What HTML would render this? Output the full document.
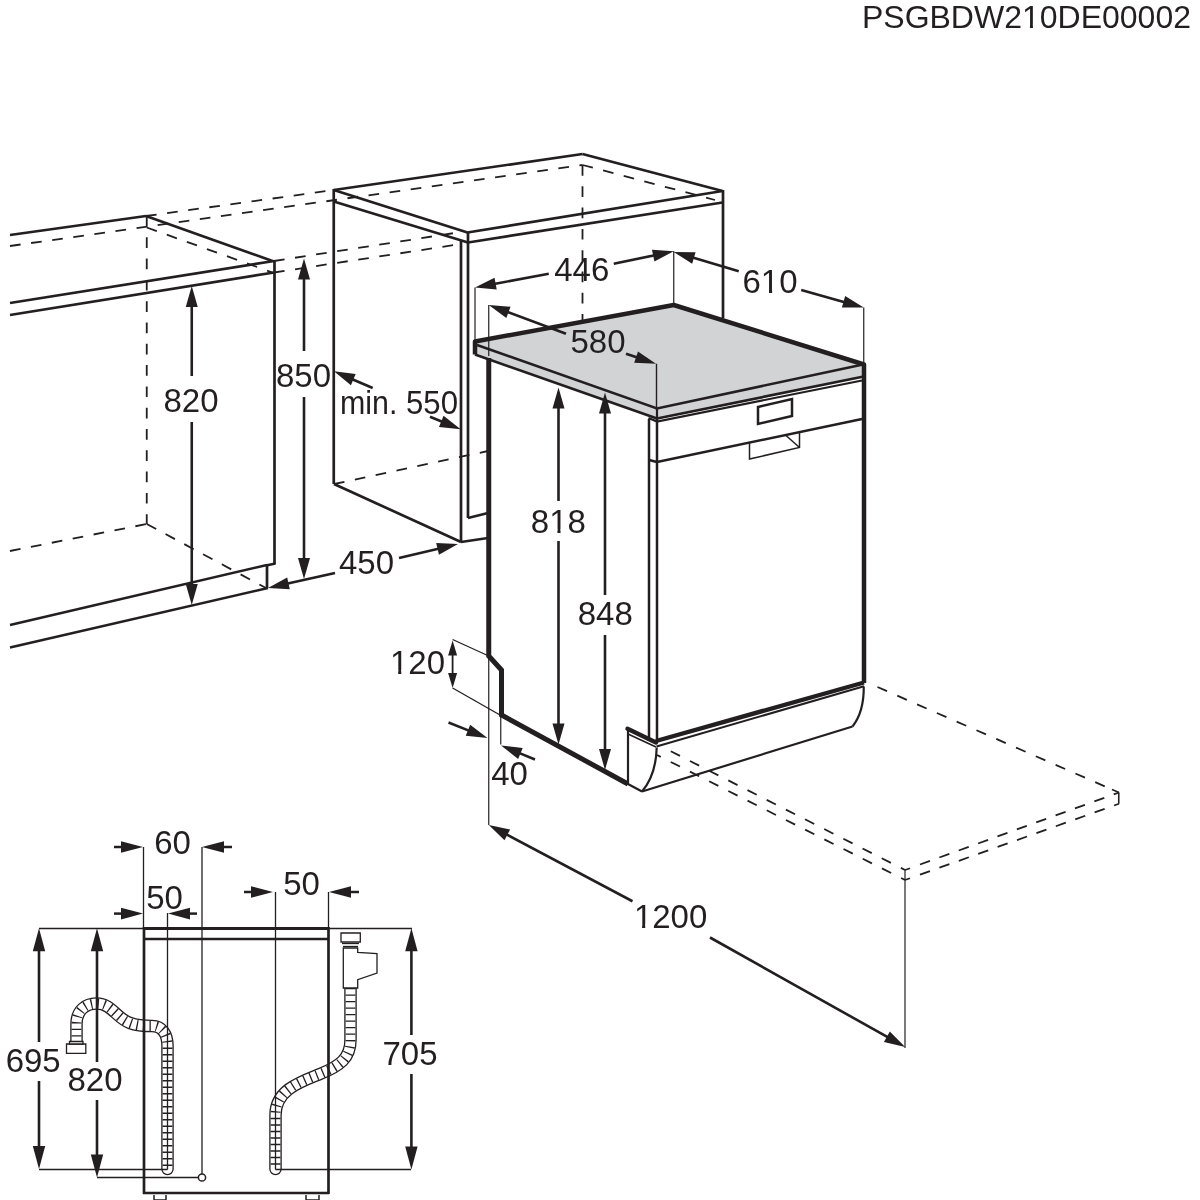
<!DOCTYPE html>
<html><head><meta charset="utf-8"><style>
html,body{margin:0;padding:0;background:#fff;}
svg{display:block;will-change:transform;}
text{font-family:"Liberation Sans",sans-serif;}
</style></head><body>
<svg width="1200" height="1200" viewBox="0 0 1200 1200" stroke="#231f20" fill="none">
<rect width="1200" height="1200" fill="#fff" stroke="none"/>
<defs><clipPath id="c0"><path d="M0,0H1200V1200H0ZM1022.91,24.01H1029.92V29.60H1022.91ZM1032.94,24.01H1039.70V29.60H1032.94Z" clip-rule="evenodd"/></clipPath><clipPath id="c1"><path d="M0,0H1200V1200H0ZM761.83,289.33H769.01V295.00H761.83ZM772.13,289.33H779.05V295.00H772.13Z" clip-rule="evenodd"/></clipPath><clipPath id="c2"><path d="M0,0H1200V1200H0ZM550.23,529.33H557.41V535.00H550.23ZM560.53,529.33H567.45V535.00H560.53Z" clip-rule="evenodd"/></clipPath><clipPath id="c3"><path d="M0,0H1200V1200H0ZM390.98,670.08H398.17V675.75H390.98ZM401.28,670.08H408.21V675.75H401.28Z" clip-rule="evenodd"/></clipPath><clipPath id="c4"><path d="M0,0H1200V1200H0ZM634.90,923.83H642.09V929.50H634.90ZM645.20,923.83H652.13V929.50H645.20Z" clip-rule="evenodd"/></clipPath></defs>
<text x="1191" y="27.6" text-anchor="end" font-size="32" fill="#231f20" stroke="none" clip-path="url(#c0)">PSGBDW210DE00002</text>
<line x1="10" y1="235" x2="146" y2="216" stroke-width="2.7" stroke-linecap="butt"/>
<line x1="146" y1="216" x2="272.5" y2="261" stroke-width="2.7" stroke-linecap="butt"/>
<line x1="10" y1="303" x2="274" y2="261" stroke-width="2.7" stroke-linecap="butt"/>
<line x1="10" y1="315" x2="274" y2="272.5" stroke-width="2.7" stroke-linecap="butt"/>
<line x1="274.5" y1="260" x2="274.5" y2="564" stroke-width="2.7" stroke-linecap="butt"/>
<line x1="275.5" y1="563.5" x2="266" y2="565.5" stroke-width="2.7" stroke-linecap="butt"/>
<line x1="267" y1="564" x2="267" y2="588" stroke-width="2.7" stroke-linecap="butt"/>
<line x1="10" y1="625" x2="267" y2="565" stroke-width="2.5" stroke-linecap="butt"/>
<line x1="10" y1="647.5" x2="268" y2="588" stroke-width="2.5" stroke-linecap="butt"/>
<line x1="146" y1="216" x2="334" y2="190" stroke-width="1.8" stroke-linecap="butt" stroke-dasharray="10.7 10.6" stroke-dashoffset="0"/>
<line x1="10" y1="246" x2="582.5" y2="165" stroke-width="1.8" stroke-linecap="butt" stroke-dasharray="10.7 10.6" stroke-dashoffset="0"/>
<line x1="146.75" y1="227.5" x2="272.5" y2="272.5" stroke-width="1.8" stroke-linecap="butt" stroke-dasharray="10.7 10.6" stroke-dashoffset="0"/>
<line x1="146.75" y1="216" x2="146.75" y2="524" stroke-width="1.8" stroke-linecap="butt" stroke-dasharray="10.7 10.6" stroke-dashoffset="0"/>
<line x1="10" y1="551" x2="146.75" y2="524" stroke-width="1.8" stroke-linecap="butt" stroke-dasharray="10.7 10.6" stroke-dashoffset="0"/>
<line x1="146.75" y1="524" x2="266" y2="588" stroke-width="1.8" stroke-linecap="butt" stroke-dasharray="10.7 10.6" stroke-dashoffset="0"/>
<line x1="274" y1="261" x2="461" y2="232" stroke-width="1.8" stroke-linecap="butt" stroke-dasharray="10.7 10.6" stroke-dashoffset="0"/>
<line x1="274" y1="272.5" x2="461" y2="244" stroke-width="1.8" stroke-linecap="butt" stroke-dasharray="10.7 10.6" stroke-dashoffset="0"/>
<line x1="191.75" y1="376" x2="191.75" y2="304.0" stroke-width="2.6" stroke-linecap="butt"/>
<polygon points="191.75,286.00 197.75,307.00 185.75,307.00" fill="#231f20" stroke="none"/>
<line x1="191.75" y1="422" x2="191.75" y2="587.0" stroke-width="2.6" stroke-linecap="butt"/>
<polygon points="191.75,605.00 185.75,584.00 197.75,584.00" fill="#231f20" stroke="none"/>
<text x="191" y="412" text-anchor="middle" font-size="33" fill="#231f20" stroke="none">820</text>
<line x1="304" y1="351" x2="304.0" y2="276.5" stroke-width="2.6" stroke-linecap="butt"/>
<polygon points="304.00,258.50 310.00,279.50 298.00,279.50" fill="#231f20" stroke="none"/>
<line x1="304" y1="397" x2="304.0" y2="561.0" stroke-width="2.6" stroke-linecap="butt"/>
<polygon points="304.00,579.00 298.00,558.00 310.00,558.00" fill="#231f20" stroke="none"/>
<text x="303.5" y="386.5" text-anchor="middle" font-size="33" fill="#231f20" stroke="none">850</text>
<line x1="333.75" y1="190" x2="582.5" y2="154" stroke-width="2.7" stroke-linecap="butt"/>
<line x1="582.5" y1="154" x2="722.5" y2="191" stroke-width="2.7" stroke-linecap="butt"/>
<line x1="333.75" y1="190" x2="467.5" y2="232.5" stroke-width="2.7" stroke-linecap="butt"/>
<line x1="333.75" y1="201.5" x2="468" y2="242.5" stroke-width="2.7" stroke-linecap="butt"/>
<line x1="467.5" y1="232.5" x2="722.5" y2="191" stroke-width="2.7" stroke-linecap="butt"/>
<line x1="468" y1="242.5" x2="722.5" y2="202.5" stroke-width="2.7" stroke-linecap="butt"/>
<line x1="333.75" y1="189" x2="333.75" y2="484" stroke-width="2.7" stroke-linecap="butt"/>
<line x1="461" y1="241" x2="461" y2="542" stroke-width="2.7" stroke-linecap="butt"/>
<line x1="468" y1="232" x2="468" y2="518" stroke-width="2.7" stroke-linecap="butt"/>
<line x1="723" y1="190" x2="723" y2="318" stroke-width="2.7" stroke-linecap="butt"/>
<line x1="334" y1="484" x2="461" y2="542" stroke-width="2.7" stroke-linecap="butt"/>
<line x1="461" y1="542" x2="488" y2="538" stroke-width="2.7" stroke-linecap="butt"/>
<line x1="468" y1="518" x2="488" y2="513" stroke-width="2.7" stroke-linecap="butt"/>
<line x1="582.5" y1="165" x2="582.5" y2="322" stroke-width="1.8" stroke-linecap="butt" stroke-dasharray="10.7 10.6" stroke-dashoffset="0"/>
<line x1="334" y1="484" x2="488" y2="451" stroke-width="1.8" stroke-linecap="butt" stroke-dasharray="10.7 10.6" stroke-dashoffset="0"/>
<line x1="582.5" y1="165" x2="715" y2="200" stroke-width="1.8" stroke-linecap="butt" stroke-dasharray="10.7 10.6" stroke-dashoffset="0"/>
<line x1="372.7" y1="388" x2="350.526888069059" y2="378.4317579006017" stroke-width="2.6" stroke-linecap="butt"/>
<polygon points="334.00,371.30 355.66,374.11 350.90,385.13" fill="#231f20" stroke="none"/>
<line x1="430" y1="416.7" x2="444.0479418089616" y2="422.4656047815282" stroke-width="2.6" stroke-linecap="butt"/>
<polygon points="460.70,429.30 438.99,426.88 443.55,415.78" fill="#231f20" stroke="none"/>
<text x="340" y="414" font-size="33" fill="#231f20" stroke="none" textLength="57.4" lengthAdjust="spacingAndGlyphs">min.</text>
<text x="406" y="414" font-size="33" fill="#231f20" stroke="none" textLength="52" lengthAdjust="spacingAndGlyphs">550</text>
<line x1="335" y1="573" x2="285.5651765259982" y2="584.0674977926869" stroke-width="2.6" stroke-linecap="butt"/>
<polygon points="268.00,588.00 287.18,577.56 289.80,589.27" fill="#231f20" stroke="none"/>
<line x1="399" y1="558" x2="440.48630824279047" y2="548.1557912644226" stroke-width="2.6" stroke-linecap="butt"/>
<polygon points="458.00,544.00 438.95,554.69 436.18,543.01" fill="#231f20" stroke="none"/>
<text x="366.5" y="574" text-anchor="middle" font-size="33" fill="#231f20" stroke="none">450</text>
<polygon points="475,342 673.75,305 863.75,364 863.75,376.5 657,418.5 475,354" stroke-width="0" fill="#d2d3d5" stroke-linejoin="miter"/>
<polyline points="475,354.5 475,341.5 673.75,305 864,364.5 864,683" stroke-width="4.5" fill="none" stroke-linejoin="round"/>
<polyline points="477,345 657,408.5 863,364.5" stroke-width="2.5" fill="none" stroke-linejoin="miter"/>
<polyline points="475,354.5 657,418.5 863.75,376.5" stroke-width="2.7" fill="none" stroke-linejoin="round"/>
<line x1="657" y1="408" x2="657" y2="419" stroke-width="2.2" stroke-linecap="butt"/>
<polyline points="488.75,358 488.75,656 501.5,670 501.5,715 628,784" stroke-width="5" fill="none" stroke-linejoin="miter"/>
<line x1="628" y1="784" x2="642" y2="791.5" stroke-width="2.2" stroke-linecap="butt"/>
<polyline points="648.5,418 657,421.5 862,380.5" stroke-width="2.2" fill="none" stroke-linejoin="miter"/>
<line x1="649" y1="419" x2="649" y2="741" stroke-width="2.5" stroke-linecap="butt"/>
<line x1="657" y1="419" x2="657" y2="741" stroke-width="2.5" stroke-linecap="butt"/>
<line x1="657" y1="462" x2="862" y2="419" stroke-width="2.5" stroke-linecap="butt"/>
<line x1="649" y1="460" x2="657" y2="462" stroke-width="2.5" stroke-linecap="butt"/>
<polygon points="758,407 792,399 792,416 758,424" stroke-width="2.5" fill="none" stroke-linejoin="miter"/>
<polyline points="749.5,443 749.5,459 799.5,447.5 799.5,432" stroke-width="1.5" fill="none" stroke-linejoin="miter"/>
<line x1="786" y1="435.5" x2="799.5" y2="447.5" stroke-width="1.5" stroke-linecap="butt"/>
<line x1="656" y1="741" x2="864" y2="682.5" stroke-width="4.4" stroke-linecap="butt"/>
<line x1="656.5" y1="746.5" x2="864" y2="686.2" stroke-width="2" stroke-linecap="butt"/>
<line x1="627.5" y1="728.75" x2="656" y2="742.5" stroke-width="4.4" stroke-linecap="round"/>
<line x1="628" y1="734" x2="656" y2="747" stroke-width="1.6" stroke-linecap="butt"/>
<line x1="628" y1="730" x2="628" y2="785" stroke-width="2.2" stroke-linecap="butt"/>
<path d="M656.7,747.5 Q656,775 642,791.5" fill="none" stroke-width="2.2"/>
<line x1="642" y1="791.5" x2="852.5" y2="726.5" stroke-width="2.2" stroke-linecap="butt"/>
<path d="M863.75,686.5 Q864,712 852.5,726.5" fill="none" stroke-width="2.2"/>
<line x1="670.8" y1="751.25" x2="905" y2="870" stroke-width="1.8" stroke-linecap="butt" stroke-dasharray="10.3 11.2" stroke-dashoffset="0"/>
<line x1="657" y1="755" x2="905" y2="880" stroke-width="1.8" stroke-linecap="butt" stroke-dasharray="10.3 11.2" stroke-dashoffset="6.1"/>
<line x1="877.5" y1="687" x2="1112" y2="789.5" stroke-width="1.8" stroke-linecap="butt" stroke-dasharray="10.4 11.2" stroke-dashoffset="0"/>
<line x1="1112" y1="789.5" x2="1119" y2="792.5" stroke-width="1.6" stroke-linecap="butt"/>
<line x1="920" y1="864.5" x2="1119" y2="792.5" stroke-width="1.8" stroke-linecap="butt" stroke-dasharray="10.6 10" stroke-dashoffset="0"/>
<line x1="905" y1="870" x2="910" y2="868.2" stroke-width="1.6" stroke-linecap="butt"/>
<line x1="920" y1="874.6" x2="1119" y2="803.75" stroke-width="1.8" stroke-linecap="butt" stroke-dasharray="10.6 10" stroke-dashoffset="0"/>
<line x1="905" y1="880" x2="910" y2="878.2" stroke-width="1.6" stroke-linecap="butt"/>
<line x1="1118.75" y1="792.5" x2="1118.75" y2="803.75" stroke-width="1.6" stroke-linecap="butt"/>
<line x1="905" y1="870" x2="905" y2="1048" stroke-width="1.2" stroke-linecap="butt"/>
<line x1="475" y1="287.5" x2="475" y2="341" stroke-width="1.2" stroke-linecap="butt"/>
<line x1="548.75" y1="273.75" x2="492.6950853809965" y2="284.20091628489894" stroke-width="2.6" stroke-linecap="butt"/>
<polygon points="475.00,287.50 494.54,277.75 496.74,289.55" fill="#231f20" stroke="none"/>
<line x1="613.75" y1="263.75" x2="656.1283524447231" y2="254.92117657401602" stroke-width="2.6" stroke-linecap="butt"/>
<polygon points="673.75,251.25 654.42,261.41 651.97,249.66" fill="#231f20" stroke="none"/>
<text x="581.75" y="281" text-anchor="middle" font-size="33" fill="#231f20" stroke="none">446</text>
<line x1="673.75" y1="251" x2="673.75" y2="305" stroke-width="1.2" stroke-linecap="butt"/>
<line x1="738.75" y1="271.25" x2="691.0090355494194" y2="257.11132975886653" stroke-width="2.6" stroke-linecap="butt"/>
<polygon points="673.75,252.00 695.59,252.21 692.18,263.72" fill="#231f20" stroke="none"/>
<line x1="801.25" y1="290" x2="846.4166476451447" y2="302.64666134064055" stroke-width="2.6" stroke-linecap="butt"/>
<polygon points="863.75,307.50 841.91,307.62 845.15,296.06" fill="#231f20" stroke="none"/>
<text x="770" y="293" text-anchor="middle" font-size="33" fill="#231f20" stroke="none" clip-path="url(#c1)">610</text>
<line x1="863.75" y1="307.5" x2="863.75" y2="362" stroke-width="1.2" stroke-linecap="butt"/>
<line x1="488.75" y1="305" x2="488.75" y2="356" stroke-width="1.2" stroke-linecap="butt"/>
<line x1="566" y1="333.75" x2="505.6195783151084" y2="311.2783220266585" stroke-width="2.6" stroke-linecap="butt"/>
<polygon points="488.75,305.00 510.52,306.70 506.34,317.95" fill="#231f20" stroke="none"/>
<line x1="626" y1="353.75" x2="638.9237006350908" y2="358.0579002116969" stroke-width="2.6" stroke-linecap="butt"/>
<polygon points="656.00,363.75 634.18,362.80 637.98,351.42" fill="#231f20" stroke="none"/>
<text x="598" y="352.5" text-anchor="middle" font-size="33" fill="#231f20" stroke="none">580</text>
<line x1="656.5" y1="363.75" x2="656.5" y2="410" stroke-width="1.4" stroke-linecap="butt"/>
<line x1="558.5" y1="501" x2="558.5" y2="405.5" stroke-width="2.6" stroke-linecap="butt"/>
<polygon points="558.50,387.50 564.50,408.50 552.50,408.50" fill="#231f20" stroke="none"/>
<line x1="558.5" y1="541" x2="558.5" y2="726.5" stroke-width="2.6" stroke-linecap="butt"/>
<polygon points="558.50,744.50 552.50,723.50 564.50,723.50" fill="#231f20" stroke="none"/>
<text x="558.4" y="533" text-anchor="middle" font-size="33" fill="#231f20" stroke="none" clip-path="url(#c2)">818</text>
<line x1="605" y1="595" x2="605.0" y2="410.5" stroke-width="2.6" stroke-linecap="butt"/>
<polygon points="605.00,392.50 611.00,413.50 599.00,413.50" fill="#231f20" stroke="none"/>
<line x1="605" y1="635" x2="605.0" y2="752.0" stroke-width="2.6" stroke-linecap="butt"/>
<polygon points="605.00,770.00 599.00,749.00 611.00,749.00" fill="#231f20" stroke="none"/>
<text x="605.3" y="625.3" text-anchor="middle" font-size="33" fill="#231f20" stroke="none">848</text>
<line x1="452.6" y1="639.5" x2="488.75" y2="656" stroke-width="1.3" stroke-linecap="butt"/>
<line x1="452.6" y1="688" x2="500" y2="715" stroke-width="1.3" stroke-linecap="butt"/>
<line x1="452.6" y1="664" x2="452.6" y2="652.5" stroke-width="1.8" stroke-linecap="butt"/>
<polygon points="452.60,640.50 457.10,655.50 448.10,655.50" fill="#231f20" stroke="none"/>
<line x1="452.6" y1="664" x2="452.6" y2="676.0" stroke-width="1.8" stroke-linecap="butt"/>
<polygon points="452.60,688.00 448.10,673.00 457.10,673.00" fill="#231f20" stroke="none"/>
<text x="417.5" y="673.75" text-anchor="middle" font-size="33" fill="#231f20" stroke="none" clip-path="url(#c3)">120</text>
<line x1="488.75" y1="656" x2="488.75" y2="825" stroke-width="1.2" stroke-linecap="butt"/>
<line x1="500.75" y1="715" x2="500.75" y2="744.5" stroke-width="1.2" stroke-linecap="butt"/>
<line x1="448.5" y1="722.5" x2="470.7726706071758" y2="731.351958831057" stroke-width="2.6" stroke-linecap="butt"/>
<polygon points="487.50,738.00 465.77,735.82 470.20,724.67" fill="#231f20" stroke="none"/>
<line x1="535" y1="759.5" x2="517.6442057725449" y2="752.3534964945773" stroke-width="2.6" stroke-linecap="butt"/>
<polygon points="501.00,745.50 522.70,747.95 518.13,759.04" fill="#231f20" stroke="none"/>
<text x="509.5" y="784.5" text-anchor="middle" font-size="33" fill="#231f20" stroke="none">40</text>
<line x1="632.5" y1="901.25" x2="504.6514506017662" y2="833.4346824931108" stroke-width="2.6" stroke-linecap="butt"/>
<polygon points="488.75,825.00 510.11,829.54 504.49,840.14" fill="#231f20" stroke="none"/>
<line x1="710" y1="937.5" x2="889.5013415620457" y2="1038.1936316651843" stroke-width="2.6" stroke-linecap="butt"/>
<polygon points="905.20,1047.00 883.95,1041.96 889.82,1031.49" fill="#231f20" stroke="none"/>
<text x="670.6" y="927.5" text-anchor="middle" font-size="33" fill="#231f20" stroke="none" clip-path="url(#c4)">1200</text>
<path d="M76.5,1043 L76.5,1024 C76.5,1010 86,1003.5 96.5,1003.5 C112,1003.5 116,1018 130,1023 C138,1026 145,1026 152,1026 C162,1026 167.5,1034 167.5,1046 L167.5,1169" fill="none" stroke="#231f20" stroke-width="12.5" stroke-linecap="round"/>
<path d="M76.5,1043 L76.5,1024 C76.5,1010 86,1003.5 96.5,1003.5 C112,1003.5 116,1018 130,1023 C138,1026 145,1026 152,1026 C162,1026 167.5,1034 167.5,1046 L167.5,1169" fill="none" stroke="#fff" stroke-width="9.9" stroke-linecap="round"/>
<path d="M76.5,1043 L76.5,1024 C76.5,1010 86,1003.5 96.5,1003.5 C112,1003.5 116,1018 130,1023 C138,1026 145,1026 152,1026 C162,1026 167.5,1034 167.5,1046 L167.5,1169" fill="none" stroke="#231f20" stroke-width="9.9" stroke-dasharray="1.3 5.2"/>
<polygon points="66.5,1044 85.8,1044 85.8,1053.4 66.5,1053.4" stroke-width="1.3" fill="#fff" stroke-linejoin="miter"/>
<polygon points="69.5,1041.5 83,1041.5 83,1044 69.5,1044" stroke-width="1.3" fill="#fff" stroke-linejoin="miter"/>
<path d="M350.5,988 L350.5,1040 C350.5,1058 340,1066 320,1074 C300,1082 275.5,1090 275.5,1115 L275.5,1169" fill="none" stroke="#231f20" stroke-width="12.5" stroke-linecap="round"/>
<path d="M350.5,988 L350.5,1040 C350.5,1058 340,1066 320,1074 C300,1082 275.5,1090 275.5,1115 L275.5,1169" fill="none" stroke="#fff" stroke-width="9.9" stroke-linecap="round"/>
<path d="M350.5,988 L350.5,1040 C350.5,1058 340,1066 320,1074 C300,1082 275.5,1090 275.5,1115 L275.5,1169" fill="none" stroke="#231f20" stroke-width="9.9" stroke-dasharray="1.3 5.2"/>
<line x1="167.5" y1="913" x2="167.5" y2="1169.4" stroke-width="1.3" stroke-linecap="butt"/>
<line x1="275.5" y1="892" x2="275.5" y2="1169.4" stroke-width="1.3" stroke-linecap="butt"/>
<line x1="39" y1="1169.5" x2="167.5" y2="1169.5" stroke-width="1.3" stroke-linecap="butt"/>
<line x1="275.5" y1="1169.5" x2="411" y2="1169.5" stroke-width="1.3" stroke-linecap="butt"/>
<line x1="144" y1="927" x2="144" y2="1194" stroke-width="2.7" stroke-linecap="butt"/>
<line x1="328.5" y1="927" x2="328.5" y2="1194" stroke-width="2.7" stroke-linecap="butt"/>
<line x1="143" y1="928.5" x2="329" y2="928.5" stroke-width="2.8" stroke-linecap="butt"/>
<line x1="143" y1="939" x2="329" y2="939" stroke-width="2.7" stroke-linecap="butt"/>
<line x1="143" y1="1193" x2="329" y2="1193" stroke-width="2.7" stroke-linecap="butt"/>
<polyline points="154,1195 154,1200 166,1200 166,1195" stroke-width="1.5" fill="none" stroke-linejoin="miter"/>
<polyline points="306,1195 306,1200 319,1200 319,1195" stroke-width="1.5" fill="none" stroke-linejoin="miter"/>
<line x1="39" y1="928.5" x2="144" y2="928.5" stroke-width="1.3" stroke-linecap="butt"/>
<line x1="329" y1="928.5" x2="412" y2="928.5" stroke-width="1.3" stroke-linecap="butt"/>
<line x1="143.5" y1="847" x2="143.5" y2="928" stroke-width="1.3" stroke-linecap="butt"/>
<line x1="202" y1="847" x2="202" y2="1174" stroke-width="1.3" stroke-linecap="butt"/>
<line x1="328.5" y1="892" x2="328.5" y2="928" stroke-width="1.3" stroke-linecap="butt"/>
<line x1="97" y1="1177.5" x2="198.5" y2="1177.5" stroke-width="1.3" stroke-linecap="butt"/>
<circle cx="202" cy="1177.5" r="3.6" fill="none" stroke-width="1.5"/>
<line x1="114" y1="847" x2="124.0" y2="847.0" stroke-width="2.5" stroke-linecap="butt"/>
<polygon points="143.00,847.00 121.00,852.80 121.00,841.20" fill="#231f20" stroke="none"/>
<line x1="232" y1="847" x2="221.0" y2="847.0" stroke-width="2.5" stroke-linecap="butt"/>
<polygon points="202.00,847.00 224.00,841.20 224.00,852.80" fill="#231f20" stroke="none"/>
<text x="172.5" y="854.4" text-anchor="middle" font-size="33" fill="#231f20" stroke="none">60</text>
<line x1="114" y1="913.6" x2="124.0" y2="913.6" stroke-width="2.5" stroke-linecap="butt"/>
<polygon points="143.00,913.60 121.00,919.40 121.00,907.80" fill="#231f20" stroke="none"/>
<line x1="197" y1="913.6" x2="187.0" y2="913.6" stroke-width="2.5" stroke-linecap="butt"/>
<polygon points="168.00,913.60 190.00,907.80 190.00,919.40" fill="#231f20" stroke="none"/>
<text x="164.5" y="909" text-anchor="middle" font-size="33" fill="#231f20" stroke="none">50</text>
<line x1="244" y1="892" x2="254.0" y2="892.0" stroke-width="2.5" stroke-linecap="butt"/>
<polygon points="273.00,892.00 251.00,897.80 251.00,886.20" fill="#231f20" stroke="none"/>
<line x1="359" y1="892" x2="348.0" y2="892.0" stroke-width="2.5" stroke-linecap="butt"/>
<polygon points="329.00,892.00 351.00,886.20 351.00,897.80" fill="#231f20" stroke="none"/>
<text x="301.5" y="895" text-anchor="middle" font-size="33" fill="#231f20" stroke="none">50</text>
<line x1="39" y1="1042" x2="39.0" y2="948.3" stroke-width="2.6" stroke-linecap="butt"/>
<polygon points="39.00,928.30 45.20,951.30 32.80,951.30" fill="#231f20" stroke="none"/>
<line x1="39" y1="1081" x2="39.0" y2="1149.0" stroke-width="2.6" stroke-linecap="butt"/>
<polygon points="39.00,1169.00 32.80,1146.00 45.20,1146.00" fill="#231f20" stroke="none"/>
<text x="33.2" y="1072" text-anchor="middle" font-size="33" fill="#231f20" stroke="none">695</text>
<line x1="97" y1="1062" x2="97.0" y2="948.3" stroke-width="2.6" stroke-linecap="butt"/>
<polygon points="97.00,928.30 103.20,951.30 90.80,951.30" fill="#231f20" stroke="none"/>
<line x1="97" y1="1100" x2="97.0" y2="1157.5" stroke-width="2.6" stroke-linecap="butt"/>
<polygon points="97.00,1177.50 90.80,1154.50 103.20,1154.50" fill="#231f20" stroke="none"/>
<text x="95" y="1091" text-anchor="middle" font-size="33" fill="#231f20" stroke="none">820</text>
<line x1="411.4" y1="1035" x2="411.4" y2="948.3" stroke-width="2.6" stroke-linecap="butt"/>
<polygon points="411.40,928.30 417.60,951.30 405.20,951.30" fill="#231f20" stroke="none"/>
<line x1="411.4" y1="1074" x2="411.4" y2="1149.4" stroke-width="2.6" stroke-linecap="butt"/>
<polygon points="411.40,1169.40 405.20,1146.40 417.60,1146.40" fill="#231f20" stroke="none"/>
<text x="410" y="1065" text-anchor="middle" font-size="33" fill="#231f20" stroke="none">705</text>
<polygon points="341,933 360.3,933 360.3,942 341,942" stroke-width="1.3" fill="#fff" stroke-linejoin="miter"/>
<line x1="342" y1="943.5" x2="359" y2="943.5" stroke-width="1.3" stroke-linecap="butt"/>
<line x1="343" y1="946.5" x2="358" y2="946.5" stroke-width="1.3" stroke-linecap="butt"/>
<polygon points="343.3,948 357.7,948 357.7,952.3 377,953.7 377,973 357.7,979.7 357.7,988 343.3,988" stroke-width="1.3" fill="#fff" stroke-linejoin="miter"/>
</svg>
</body></html>
